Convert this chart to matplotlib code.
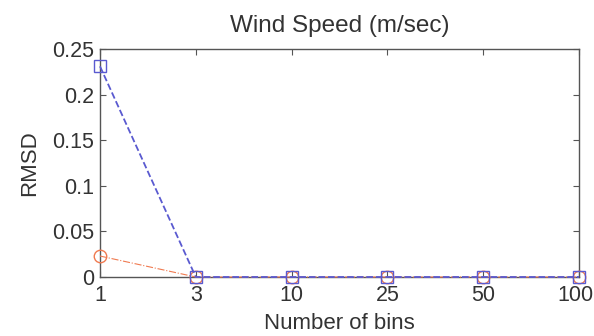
import matplotlib
matplotlib.use("Agg")
import matplotlib.pyplot as plt
from matplotlib.transforms import ScaledTranslation

plt.rcParams["font.family"] = ["Liberation Sans", "DejaVu Sans"]

# RMSD against number of bins
bin_labels = ["1", "3", "10", "25", "50", "100"]
rmsd_circle = [0.023, 0.0, 0.0, 0.0, 0.0, 0.0]
rmsd_square = [0.231, 0.0, 0.0, 0.0, 0.0, 0.0]

pos = list(range(len(bin_labels)))

fig = plt.figure(figsize=(5.94, 3.36), dpi=100)
ax = fig.add_axes([100 / 594, 1 - 277 / 336, 479 / 594, 228 / 336])

ax.plot(pos, rmsd_circle, linestyle="-.", color="#f07a50", linewidth=0.8,
        marker="o", markersize=9, markerfacecolor="none", markeredgewidth=1.0,
        clip_on=False, zorder=3)
ax.plot(pos, rmsd_square, linestyle="--", color="#5a5ad0", linewidth=1.3,
        marker="s", markersize=9, markerfacecolor="none", markeredgewidth=1.0,
        clip_on=False, zorder=4)

ax.set_xlim(0, len(bin_labels) - 1)
ax.set_ylim(0, 0.25)
ax.set_xticks(pos)
ax.set_xticklabels(bin_labels)
ax.set_yticks([0, 0.05, 0.1, 0.15, 0.2, 0.25])
ax.set_yticklabels(["0", "0.05", "0.1", "0.15", "0.2", "0.25"])

txt = "#333333"
ax.tick_params(direction="in", top=True, right=True, length=4, width=0.8,
               color="#555555", labelsize=15.5, labelcolor=txt)
ax.tick_params(axis="x", pad=6)
ax.tick_params(axis="y", pad=4)
for s in ax.spines.values():
    s.set_color("#555555")
    s.set_linewidth(1.0)

# keep the "100" label inside the figure edge
last = ax.get_xticklabels()[-1]
last.set_transform(last.get_transform() + ScaledTranslation(-4 / 100, 0, fig.dpi_scale_trans))

ax.set_title("Wind Speed (m/sec)", fontsize=17.5, color=txt, pad=12)
ax.set_xlabel("Number of bins", fontsize=16, color=txt, labelpad=5)
ax.set_ylabel("RMSD", fontsize=16, color=txt, labelpad=9)

fig.savefig("out.png", dpi=100)
